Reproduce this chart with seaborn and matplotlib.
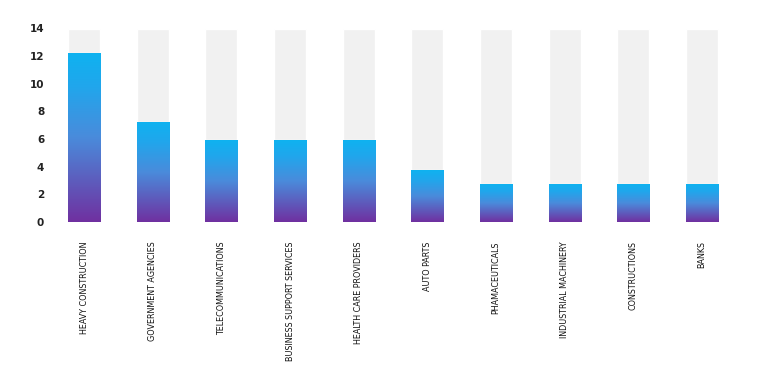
import numpy as np
import pandas as pd
import matplotlib
matplotlib.use("Agg")
import matplotlib.pyplot as plt
from matplotlib.colors import LinearSegmentedColormap
import seaborn as sns

sectors = ["HEAVY CONSTRUCTION", "GOVERNMENT AGENCIES", "TELECOMMUNICATIONS",
           "BUSINESS SUPPORT SERVICES", "HEALTH CARE PROVIDERS", "AUTO PARTS",
           "PHAMACEUTICALS", "INDUSTRIAL MACHINERY", "CONSTRUCTIONS", "BANKS"]
values = [12.2, 7.2, 5.9, 5.9, 5.9, 3.75, 2.73, 2.73, 2.73, 2.73]
max_value = [14] * len(sectors)
y_ticks = [0, 2, 4, 6, 8, 10, 12, 14]

df = pd.DataFrame({"sector": sectors, "value": values, "max": max_value})

sns.set_style("white")
plt.rcParams["font.family"] = ["DejaVu Sans"]

fig = plt.figure(figsize=(7.59, 3.80), dpi=100)
ax = fig.add_axes([49.7 / 759, 1 - 222 / 380, (736.3 - 49.7) / 759, (222 - 28.5) / 380])

# grey background bars up to 14
sns.barplot(data=df, x="sector", y="max", color="#f1f1f1", width=0.47,
            saturation=1, ax=ax)
n_bg = len(ax.patches)
sns.barplot(data=df, x="sector", y="value", color="#3a8de0", width=0.47,
            saturation=1, ax=ax)

# vertical gradient inside each value bar
cmap = LinearSegmentedColormap.from_list(
    "grad", [(0, "#7030a0"), (0.5, "#4a8bdb"), (0.8, "#21a6ec"), (1, "#0fb2f0")])
grad = np.linspace(0, 1, 256).reshape(-1, 1)
for p in ax.patches[n_bg:]:
    x0, y0 = p.get_x(), p.get_y()
    w, h = p.get_width(), p.get_height()
    p.set_facecolor("none")
    im = ax.imshow(grad, cmap=cmap, origin="lower", aspect="auto",
                   extent=[x0, x0 + w, y0, y0 + h], zorder=p.get_zorder() + 0.1)
    im.set_clip_path(p)

ax.set_xlim(-0.5, len(sectors) - 0.5)
ax.set_ylim(0, 14)
ax.set_yticks(y_ticks)
ax.set_yticklabels([str(t) for t in y_ticks], fontsize=7.5, fontweight="bold",
                   color="#222222")
ax.set_xticks(range(len(sectors)))
ax.set_xticklabels(sectors, rotation=90, va="top", ha="center", fontsize=6.4,
                   fontstretch="condensed", color="#111111")
ax.tick_params(axis="x", length=0, pad=14)
ax.tick_params(axis="y", length=0, pad=4)
ax.set_xlabel("")
ax.set_ylabel("")
sns.despine(ax=ax, left=True, bottom=True)

fig.savefig("out.png", dpi=100)
